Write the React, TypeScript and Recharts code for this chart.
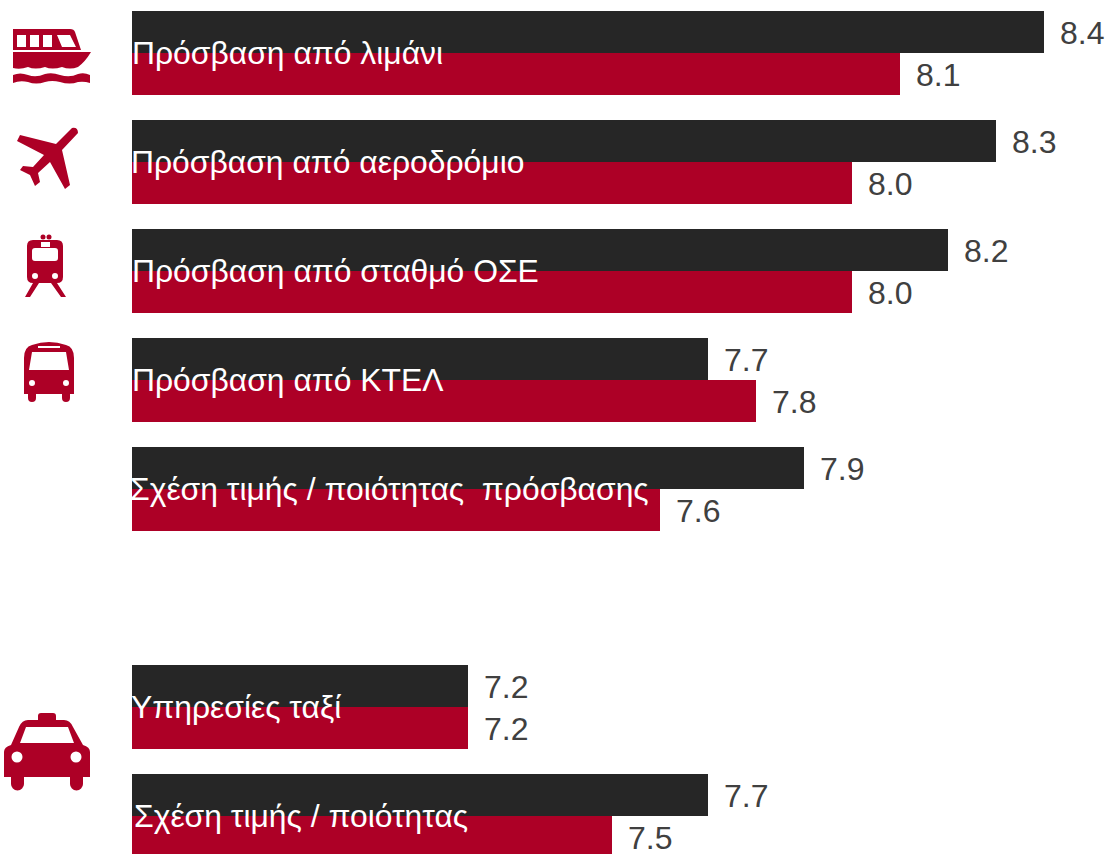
import { BarChart, Bar, XAxis, YAxis, LabelList } from "recharts";

const categories = [
  "Πρόσβαση από λιμάνι",
  "Πρόσβαση από αεροδρόμιο",
  "Πρόσβαση από σταθμό ΟΣΕ",
  "Πρόσβαση από ΚΤΕΛ",
  "Σχέση τιμής / ποιότητας  πρόσβασης",
  "",
  "Υπηρεσίες ταξί",
  "Σχέση τιμής / ποιότητας",
];
const darkValues = [8.4, 8.3, 8.2, 7.7, 7.9, null, 7.2, 7.7];
const redValues = [8.1, 8.0, 8.0, 7.8, 7.6, null, 7.2, 7.5];

const labelNudge = [1, 0, 1, 1, -1, 0, 0, 3];

const chartData = categories.map((name, i) => ({
  name,
  dark: darkValues[i],
  red: redValues[i],
}));

const DARK = "#262626";
const RED = "#AD0026";
const FONT = "'Liberation Sans', Arial, sans-serif";

const fmt = (v: any) => (v == null ? "" : Number(v).toFixed(1));

function CategoryLabel(props: any) {
  const { x, y, value } = props;
  if (!value) return null;
  const nudge = labelNudge[categories.indexOf(value)];
  return (
    <text
      x={x + nudge - 1}
      y={y + 10.5}
      fill="#ffffff"
      fontSize={31.85}
      fontFamily={FONT}
      style={{ whiteSpace: "pre" }}
    >
      {value}
    </text>
  );
}

function Icons() {
  return (
    <svg
      width={132}
      height={854}
      style={{ position: "absolute", left: 0, top: 0 }}
    >
      <g fill={RED} fillRule="evenodd">
        {/* boat */}
        <path d="M13 29 H70 Q74 29 75 32 L81 50 H13 Z M17 35 V47 H26 V35 Z M30 35 V47 H39 V35 Z M43 35 V47 H52 V35 Z M57 35 L62 47 H76 L70 35 Z" />
        <path d="M13 52 H91 Q85 62 78 67 Q70 70 62 67 Q52 70 45 67 Q35 70 28 67 Q20 70 13 68 Z" />
        <path d="M13 75 Q20 72 28 75 Q36 78 45 74 Q52 72 60 75 Q70 78 78 74 Q84 72 90 75 V83 Q84 81 78 82 Q70 85 60 82 Q52 80 45 82 Q36 85 28 82 Q20 80 13 83 Z" />
        {/* plane */}
        <path d="M72 128 Q78 127 78 133 L62 150 L70 185 L65 189 L50 162 L38 173 L40 182 L35 186 L30 175 L20 170 L23 166 L33 167 L44 155 L17 141 L20 135 L56 144 Z" />
        {/* train */}
        <circle cx={43} cy={237} r={2.5} />
        <circle cx={49} cy={237} r={2.5} />
        <path d="M33 240 H57 Q63 240 63 246 V277 Q63 283 57 283 H33 Q27 283 27 277 V246 Q27 240 33 240 Z M41 242 V247 H50 V242 Z M35 248 Q32 248 32 251 V258 Q32 261 35 261 H55 Q58 261 58 258 V251 Q58 248 55 248 Z M35 273 A3 3 0 1 0 35 279 A3 3 0 1 0 35 273 Z M55 273 A3 3 0 1 0 55 279 A3 3 0 1 0 55 273 Z" />
        <path d="M33 283 H39 L30 297 H25 Z M51 283 H57 L66 297 H61 Z" />
        {/* bus */}
        <path d="M24 394 V358 Q24 347 32 345 Q49 339 66 345 Q74 347 74 358 V394 H70 V398 A4 4 0 0 1 62 398 V394 H36 V398 A4 4 0 0 1 28 398 V394 Z M38 346 V348 H60 V346 Z M32 352 L29 370 H69 L66 352 Z M32 380 A3 3 0 1 0 32 386 A3 3 0 1 0 32 380 Z M66 380 A3 3 0 1 0 66 386 A3 3 0 1 0 66 380 Z" />
        {/* taxi */}
        <path d="M38 720 V716 Q38 713 41 713 H53 Q56 713 56 716 V720 H64 Q70 720 73 727 L83 745 Q90 747 90 752 V777 H83 V784 A6.5 6.5 0 0 1 70 784 V777 H24 V784 A6.5 6.5 0 0 1 11 784 V777 H4 V752 Q4 747 11 745 L19 727 Q22 720 28 720 Z M26 727 L20 743 H74 L68 727 Z M17 751.5 A5.5 5.5 0 1 0 17 762.5 A5.5 5.5 0 1 0 17 751.5 Z M76 751.5 A5.5 5.5 0 1 0 76 762.5 A5.5 5.5 0 1 0 76 751.5 Z" />
      </g>
    </svg>
  );
}

export default function App() {
  return (
    <div
      style={{
        position: "fixed",
        left: 0,
        top: 0,
        width: 1107,
        height: 854,
        overflow: "hidden",
        background: "#ffffff",
      }}
    >
      <div style={{ position: "absolute", left: 0, top: -2 }}>
        <BarChart
          width={1107}
          height={872}
          data={chartData}
          layout="vertical"
          barGap={0}
          barSize={42}
          margin={{ top: 0, right: 15, bottom: 0, left: 132 }}
        >
          <XAxis type="number" domain={[6.5, 8.5]} hide />
          <YAxis type="category" dataKey="name" hide />
          <Bar dataKey="dark" fill={DARK} isAnimationActive={false}>
            <LabelList
              dataKey="dark"
              position="right"
              offset={16}
              dy={1}
              formatter={fmt}
              fill="#404040"
              fontSize={32}
              fontFamily={FONT}
            />
          </Bar>
          <Bar dataKey="red" fill={RED} isAnimationActive={false}>
            <LabelList
              dataKey="red"
              position="right"
              offset={16}
              dy={1}
              formatter={fmt}
              fill="#404040"
              fontSize={32}
              fontFamily={FONT}
            />
            <LabelList dataKey="name" content={<CategoryLabel />} />
          </Bar>
        </BarChart>
      </div>
      <Icons />
    </div>
  );
}
